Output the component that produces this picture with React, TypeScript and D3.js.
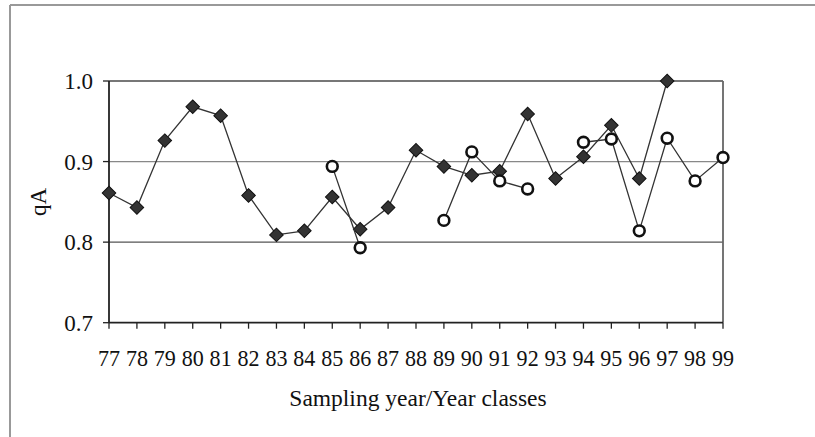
import React from "react";
import * as d3 from "d3";

const years = ["77","78","79","80","81","82","83","84","85","86","87","88","89","90","91","92","93","94","95","96","97","98","99"];
const diamondValues: (number | null)[] = [0.861,0.843,0.926,0.968,0.957,0.858,0.809,0.814,0.856,0.816,0.843,0.914,0.894,0.883,0.888,0.959,0.879,0.906,0.945,0.879,1.0,null,null];
const circleValues: (number | null)[] = [null,null,null,null,null,null,null,null,0.894,0.793,null,null,0.827,0.912,0.876,0.866,null,0.924,0.928,0.814,0.929,0.876,0.905];
const yTicks = [0.7, 0.8, 0.9, 1.0];
const gridValues = [0.8, 0.9];

const W = 815, H = 437;
const left = 109, right = 723, top = 81, bottom = 322.7;

export default function App() {
  const x = d3.scalePoint<string>().domain(years).range([left, right]);
  const y = d3.scaleLinear().domain([0.7, 1.0]).range([bottom, top]);
  const font = "'Liberation Serif', 'Times New Roman', serif";

  const line = d3
    .line<number | null>()
    .defined((d) => d !== null)
    .x((_, i) => x(years[i]) as number)
    .y((d) => y(d as number));

  const diamond = d3.symbol().type(d3.symbolSquare).size(92)() as string;

  return (
    <div style={{ position: "absolute", left: 0, top: 0 }}>
      <svg width={W} height={H} style={{ display: "block", background: "#fff" }}>
        {/* outer frame */}
        <line x1={10} y1={5} x2={W} y2={5} stroke="#999" strokeWidth={2} />
        <line x1={10} y1={5} x2={10} y2={H} stroke="#999" strokeWidth={2} />

        {/* gridlines */}
        {gridValues.map((v) => (
          <line key={v} x1={left} x2={right} y1={y(v)} y2={y(v)} stroke={v === 0.8 ? "#555" : "#888"} strokeWidth={1.3} />
        ))}
        {/* plot border top & right */}
        <line x1={left} x2={right} y1={y(1.0)} y2={y(1.0)} stroke="#777" strokeWidth={1.8} />
        <line x1={right} x2={right} y1={y(1.0)} y2={y(0.7)} stroke="#666" strokeWidth={1.8} />

        {/* axes */}
        <line x1={left} x2={left} y1={y(1.0)} y2={y(0.7)} stroke="#222" strokeWidth={1.8} />
        <line x1={left} x2={right} y1={y(0.7)} y2={y(0.7)} stroke="#222" strokeWidth={1.8} />
        {yTicks.map((t) => (
          <g key={t}>
            <line x1={left - 6} x2={left} y1={y(t)} y2={y(t)} stroke="#222" strokeWidth={1.3} />
            <text x={93} y={y(t)} dy="0.35em" textAnchor="end" fontFamily={font} fontSize={23} fill="#111">
              {t.toFixed(1)}
            </text>
          </g>
        ))}
        {years.map((yr) => (
          <g key={yr}>
            <line x1={x(yr)} x2={x(yr)} y1={bottom} y2={bottom + 6} stroke="#222" strokeWidth={1.3} />
            <text
              transform={`translate(${x(yr)},366) scale(0.92,1)`}
              textAnchor="middle"
              fontFamily={font}
              fontSize={24}
              fill="#111"
            >
              {yr}
            </text>
          </g>
        ))}

        {/* axis titles */}
        <text x={418} y={406} textAnchor="middle" fontFamily={font} fontSize={23.5} fill="#111">
          Sampling year/Year classes
        </text>
        <text transform={`translate(46,202) rotate(-90)`} textAnchor="middle" fontFamily={font} fontSize={23} fill="#111">
          qA
        </text>

        {/* diamond series */}
        <path d={line(diamondValues) || ""} fill="none" stroke="#333" strokeWidth={1.3} />
        {diamondValues.map((v, i) =>
          v === null ? null : (
            <path
              key={"d" + i}
              d={diamond}
              transform={`translate(${x(years[i])},${y(v)}) rotate(45)`}
              fill="#333"
              stroke="#111"
              strokeWidth={1}
            />
          )
        )}

        {/* circle series */}
        <path d={line(circleValues) || ""} fill="none" stroke="#333" strokeWidth={1.3} />
        {circleValues.map((v, i) =>
          v === null ? null : (
            <circle key={"c" + i} cx={x(years[i])} cy={y(v)} r={5.4} fill="#fff" stroke="#111" strokeWidth={2.6} />
          )
        )}
      </svg>
    </div>
  );
}
